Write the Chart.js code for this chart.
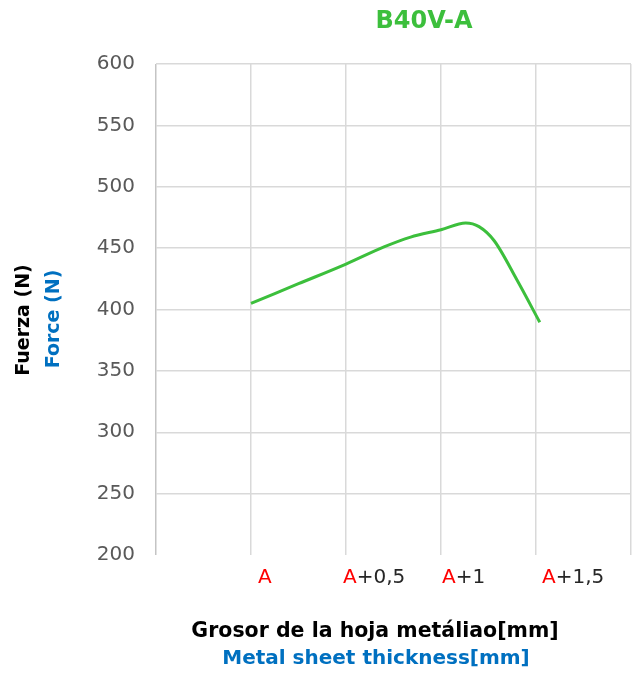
<!DOCTYPE html>
<html>
<head>
<meta charset="utf-8">
<script src="https://cdn.jsdelivr.net/npm/chart.js@4"></script>
<style>
  html, body { margin: 0; padding: 0; background: #ffffff; }
  #wrap { width: 635px; height: 674px; }
</style>
</head>
<body>
<div id="wrap"><canvas id="forceChart" width="635" height="674"></canvas></div>
<script>
// Datos
const thickness = [0, 0.25, 0.5, 0.7, 0.84, 1.0, 1.13, 1.2, 1.28, 1.4, 1.52];
const force = [405, 421, 437, 451, 459, 465, 470.5, 467.5, 456, 424, 389.6];
const tickValues = [0, 0.5, 1, 1.5];
const tickRed = ["A", "A", "A", "A"];
const tickRest = ["", "+0,5", "+1", "+1,5"];

const FONT = "'DejaVu Sans', sans-serif";
const GREEN = "#3cbf3c";
const BLUE = "#0070c0";

// Textos dibujados a mano (titulo, ejes y etiquetas con dos colores)
const textPlugin = {
    id: "textPlugin",
    afterDraw(chart) {
        const ctx = chart.ctx;
        const xs = chart.scales.x;
        ctx.save();

        ctx.textBaseline = "middle";
        ctx.font = "bold 24px " + FONT;
        ctx.fillStyle = GREEN;
        ctx.textAlign = "center";
        ctx.fillText("B40V-A", 424, 22);

        // etiquetas del eje x
        const dx = [7, -3, 1, 6];
        ctx.font = "20px " + FONT;
        ctx.textAlign = "left";
        tickValues.forEach((v, i) => {
            let x = xs.getPixelForValue(v) + dx[i];
            ctx.fillStyle = "#ff0000";
            ctx.fillText(tickRed[i], x, 578);
            x += ctx.measureText(tickRed[i]).width;
            ctx.fillStyle = "#262626";
            ctx.fillText(tickRest[i], x, 578);
        });

        // titulos eje x
        ctx.textAlign = "center";
        ctx.font = "bold 20.5px " + FONT;
        ctx.fillStyle = "#000000";
        ctx.fillText("Grosor de la hoja metáliao[mm]", 375, 632);
        ctx.font = "bold 20px " + FONT;
        ctx.fillStyle = BLUE;
        ctx.fillText("Metal sheet thickness[mm]", 376, 659);

        // titulos eje y
        ctx.font = "bold 19px " + FONT;
        ctx.translate(24, 320);
        ctx.rotate(-Math.PI / 2);
        ctx.fillStyle = "#000000";
        ctx.fillText("Fuerza (N)", 0, 0);
        ctx.rotate(Math.PI / 2);
        ctx.translate(30, -1);
        ctx.rotate(-Math.PI / 2);
        ctx.fillStyle = BLUE;
        ctx.fillText("Force (N)", 0, 0);
        ctx.restore();
    }
};

document.addEventListener("DOMContentLoaded", function () {
    const ctx = document.getElementById("forceChart").getContext("2d");

    new Chart(ctx, {
        type: "line",
        data: {
            datasets: [
                {
                    label: "B40V-A",
                    data: thickness.map((t, i) => ({ x: t, y: force[i] })),
                    borderColor: GREEN,
                    borderWidth: 3,
                    pointRadius: 0,
                    cubicInterpolationMode: "monotone",
                    fill: false,
                },
            ],
        },
        options: {
            responsive: false,
            animation: false,
            layout: { padding: { top: 64, right: 4, bottom: 119, left: 0 } },
            plugins: {
                legend: { display: false },
                title: { display: false },
                tooltip: { enabled: false },
            },
            scales: {
                x: {
                    type: "linear",
                    min: -0.5,
                    max: 2,
                    ticks: { display: false, stepSize: 0.5 },
                    border: { display: false },
                    grid: {
                        drawTicks: false,
                        lineWidth: 1.5,
                        color: (c) => (c.tick && c.tick.value === -0.5 ? "#c4c4c4" : "#d9d9d9"),
                    },
                },
                y: {
                    min: 200,
                    max: 600,
                    afterFit(scale) { scale.width = 156; },
                    ticks: {
                        stepSize: 50,
                        padding: 21,
                        color: "#595959",
                        font: { family: FONT, size: 20 },
                    },
                    border: { display: false },
                    grid: {
                        drawTicks: false,
                        lineWidth: 1.5,
                        color: (c) => (c.tick && c.tick.value === 200 ? "rgba(0,0,0,0)" : "#d9d9d9"),
                    },
                },
            },
        },
        plugins: [textPlugin],
    });
});
</script>
</body>
</html>
